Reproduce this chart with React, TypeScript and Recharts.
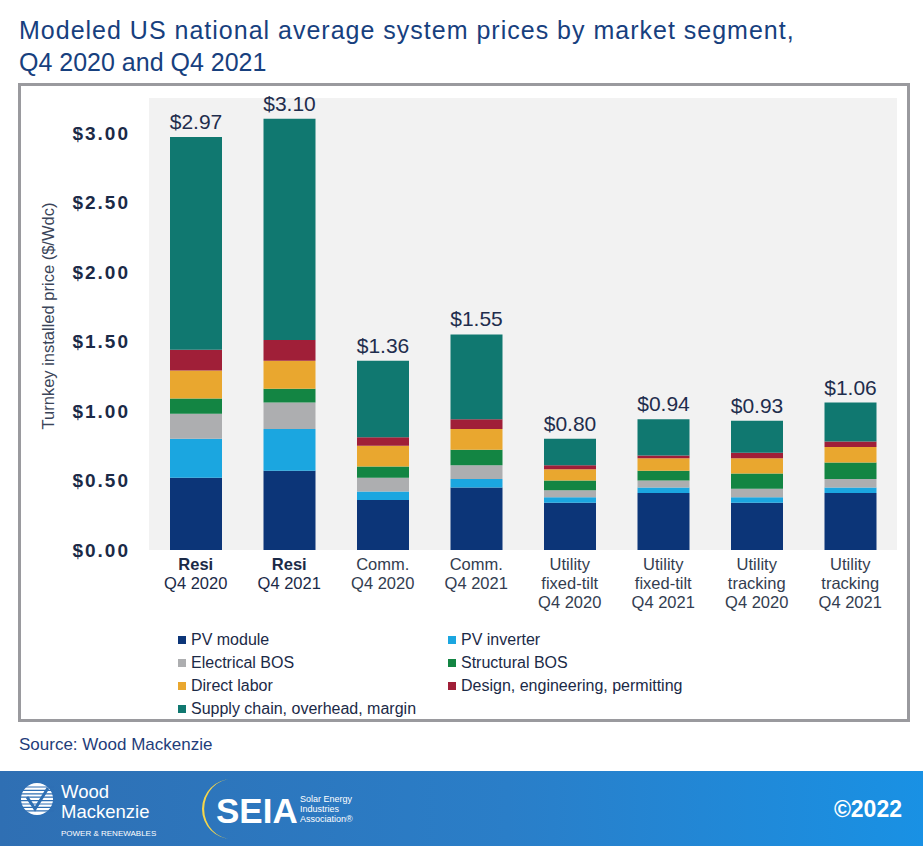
import { BarChart, Bar, XAxis, YAxis, CartesianGrid, LabelList } from 'recharts';

const categories = [
  'Resi\nQ4 2020',
  'Resi\nQ4 2021',
  'Comm.\nQ4 2020',
  'Comm.\nQ4 2021',
  'Utility\nfixed-tilt\nQ4 2020',
  'Utility\nfixed-tilt\nQ4 2021',
  'Utility\ntracking\nQ4 2020',
  'Utility\ntracking\nQ4 2021',
];

// $/Wdc per cost component
const pvModule = [0.52, 0.57, 0.36, 0.45, 0.34, 0.41, 0.34, 0.41];
const pvInverter = [0.28, 0.30, 0.06, 0.06, 0.04, 0.04, 0.04, 0.04];
const electricalBos = [0.18, 0.19, 0.10, 0.10, 0.05, 0.05, 0.06, 0.06];
const structuralBos = [0.11, 0.10, 0.08, 0.11, 0.07, 0.07, 0.11, 0.12];
const directLabor = [0.20, 0.20, 0.15, 0.15, 0.08, 0.09, 0.11, 0.11];
const designEng = [0.15, 0.15, 0.06, 0.07, 0.03, 0.02, 0.04, 0.04];
const supplyChain = [1.53, 1.59, 0.55, 0.61, 0.19, 0.26, 0.23, 0.28];
const totals = [2.97, 3.10, 1.36, 1.55, 0.80, 0.94, 0.93, 1.06];

const yTicks = [0, 0.5, 1.0, 1.5, 2.0, 2.5, 3.0];

const series = [
  { key: 'module', name: 'PV module', color: '#0c3578', values: pvModule },
  { key: 'inverter', name: 'PV inverter', color: '#1ba6e0', values: pvInverter },
  { key: 'elec', name: 'Electrical BOS', color: '#adaeb0', values: electricalBos },
  { key: 'struct', name: 'Structural BOS', color: '#138543', values: structuralBos },
  { key: 'labor', name: 'Direct labor', color: '#e9a72f', values: directLabor },
  { key: 'design', name: 'Design, engineering, permitting', color: '#a01f38', values: designEng },
  { key: 'supply', name: 'Supply chain, overhead, margin', color: '#107870', values: supplyChain },
];

const data = categories.map((cat, i) => {
  const row: Record<string, any> = { cat, total: totals[i] };
  series.forEach((s) => (row[s.key] = s.values[i]));
  return row;
});

const FONT = '"Liberation Sans", Arial, sans-serif';
const NAVY = '#1b2a47';

function XTick({ x, y, payload }: any) {
  const lines = String(payload.value).split('\n');
  const resi = lines[0] === 'Resi';
  return (
    <text x={x} y={y} textAnchor="middle" fontSize={16.5} fill={resi ? NAVY : '#333d50'} fontFamily={FONT}>
      {lines.map((l, i) => (
        <tspan key={i} x={x} dy={i === 0 ? 20 : 19} fontWeight={resi && i === 0 ? 700 : 400}>
          {l}
        </tspan>
      ))}
    </text>
  );
}

function YTitle({ viewBox }: any) {
  const cx = viewBox.x - 41;
  const cy = viewBox.y + viewBox.height / 2 - 8;
  return (
    <text x={cx} y={cy} transform={`rotate(-90 ${cx} ${cy})`} textAnchor="middle" dominantBaseline="central" fontSize={16.5} fill="#3b4559" fontFamily={FONT}>
      Turnkey installed price ($/Wdc)
    </text>
  );
}

const legendRows = [
  [series[0], series[1]],
  [series[2], series[3]],
  [series[4], series[5]],
  [series[6]],
];

export default function App() {
  return (
    <div style={{ position: 'absolute', left: 0, top: 0, width: 923, height: 846, background: '#fff', overflow: 'hidden', fontFamily: FONT }}>
      <div style={{ position: 'absolute', left: 19, top: 14, fontSize: 25, lineHeight: '32px', color: '#17407e', whiteSpace: 'nowrap' }}>
        <span style={{ letterSpacing: 1 }}>Modeled US national average system prices by market segment,</span>
        <br />
        Q4 2020 and Q4 2021
      </div>

      <div style={{ position: 'absolute', left: 18, top: 83, width: 892, height: 639, border: '3px solid #9a9a9e', boxSizing: 'border-box' }} />

      <div style={{ position: 'absolute', left: 0, top: 0 }}>
        <BarChart width={923} height={640} data={data} margin={{ top: 98, right: 26, bottom: 60, left: 89 }} barSize={52}>
          <CartesianGrid horizontal={false} vertical={false} fill="#f2f2f2" stroke="none" />
          <XAxis dataKey="cat" axisLine={false} tickLine={false} tickSize={0} tickMargin={0} interval={0} height={30} tick={<XTick />} />
          <YAxis
            width={60}
            domain={[0, 3.25]}
            ticks={yTicks}
            axisLine={false}
            tickLine={false}
            tickSize={0}
            tickMargin={19}
            tickFormatter={(v: number) => `$${v.toFixed(2)}`}
            tick={{ fontSize: 19, fontWeight: 700, fill: NAVY, fontFamily: FONT, letterSpacing: 2 }}
            label={<YTitle />}
          />
          {series.map((s, i) => (
            <Bar key={s.key} dataKey={s.key} stackId="a" fill={s.color} isAnimationActive={false}>
              {i === series.length - 1 && (
                <LabelList
                  dataKey="total"
                  position="top"
                  offset={8}
                  formatter={(v: any) => `$${Number(v).toFixed(2)}`}
                  style={{ fontSize: 21, fill: '#1f2d4d', fontFamily: FONT }}
                />
              )}
            </Bar>
          ))}
        </BarChart>
      </div>

      {legendRows.map((row, r) =>
        row.map((s, c) => (
          <div
            key={s.key}
            style={{ position: 'absolute', left: c === 0 ? 178 : 448, top: 640 + r * 23 - 10, height: 20, display: 'flex', alignItems: 'center', fontSize: 16, color: NAVY, whiteSpace: 'nowrap' }}
          >
            <span style={{ display: 'inline-block', width: 8, height: 8, background: s.color, marginRight: 5 }} />
            {s.name}
          </div>
        ))
      )}

      <div style={{ position: 'absolute', left: 19, top: 735, fontSize: 17, color: '#1f3d7a' }}>Source: Wood Mackenzie</div>

      <div style={{ position: 'absolute', left: 0, top: 771, width: 923, height: 75, background: 'linear-gradient(90deg, #2f6fb3 0%, #2a7ec8 55%, #1991e4 100%)' }}>
        <svg width={923} height={75} style={{ position: 'absolute', left: 0, top: 0 }}>
          <circle cx={37} cy={28} r={16} fill="#fff" />
          {[0, 1, 2, 3, 4, 5, 6, 7].map((k) => (
            <line key={k} x1={20} x2={54} y1={16 + k * 3.4} y2={16 + k * 3.4} stroke="#2f6fb3" strokeWidth={1.2} />
          ))}
          <path d="M27 26 L35 38 L48 17" stroke="#2f6fb3" strokeWidth={3} fill="none" />
          <text x={61} y={27} fontSize={18.5} fill="#fff" fontFamily={FONT}>Wood</text>
          <text x={61} y={47} fontSize={18.5} fill="#fff" fontFamily={FONT}>Mackenzie</text>
          <text x={61} y={65} fontSize={8} fill="#fff" fontFamily={FONT}>POWER &amp; RENEWABLES</text>
          <path d="M232 8 A30 30 0 1 0 232 68 A26 28 0 1 1 232 8 Z" fill="#f6d64b" />
          <text x={216} y={52} fontSize={35} fontWeight={700} fill="#fff" fontFamily={FONT}>SEIA</text>
          <text x={300} y={31} fontSize={9} fill="#fff" fontFamily={FONT}>Solar Energy</text>
          <text x={300} y={41} fontSize={9} fill="#fff" fontFamily={FONT}>Industries</text>
          <text x={300} y={51} fontSize={9} fill="#fff" fontFamily={FONT}>Association®</text>
          <text x={902} y={46} textAnchor="end" fontSize={23} fontWeight={700} fill="#fff" fontFamily={FONT}>©2022</text>
        </svg>
      </div>
    </div>
  );
}
